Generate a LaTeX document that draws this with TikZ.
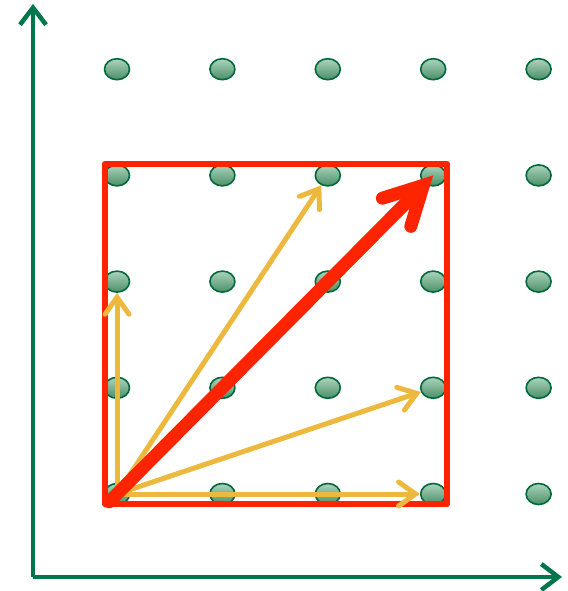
\documentclass[tikz,border=0pt]{standalone}
\usetikzlibrary{arrows.meta,shapes.geometric}
\definecolor{axisgreen}{RGB}{0,118,76}
\definecolor{pegfill}{RGB}{88,168,122}
\definecolor{pegline}{RGB}{0,105,58}
\definecolor{framered}{RGB}{255,36,0}
\definecolor{vecyellow}{RGB}{236,184,62}
\begin{document}
\begin{tikzpicture}[x=1pt, y=-1pt,
		axis/.style={draw=axisgreen, line width=4.5pt, -{Straight Barb[length=17pt, width=26pt, line width=4.5pt]}},
		peg/.style={ellipse, minimum width=25pt, minimum height=21pt, inner sep=0pt, draw=pegline, line width=1.6pt,
			top color=pegfill!50!white, bottom color=pegfill!85!black},
		frame/.style={draw=framered, line width=6.5pt, line join=round},
		vec/.style={draw=vecyellow, line width=5pt, line cap=round,
			-{Straight Barb[length=17pt, width=24pt, line width=5pt, line cap=round]}},
		bigvec/.style={draw=framered, line width=13pt, line cap=round,
			-{Straight Barb[length=38pt, width=40pt, line width=13pt, line cap=round]}}]
		\useasboundingbox (0,0) rectangle (567,591);
		% axes
		\coordinate (o) at (33,577);
		\coordinate (ytop) at (33,4);
		\coordinate (xend) at (562,577);
		\draw[axis] (o) -- (ytop);
		\draw[axis] (o) -- (xend);

		% lattice points p-i-j (i column, j row from the bottom)
		\foreach \i in {0,...,4}
			\foreach \j in {0,...,4}
				\node[peg] (p-\i-\j) at (117+105.4*\i, 494-106.2*\j) {};

		% square
		\draw[frame] (105,164) rectangle (447,504);

		% yellow vectors from the corner point
		\foreach \t in {p-0-2, p-2-3, p-3-1, p-3-0}
			\draw[vec] (p-0-0.center) -- (\t);

		% diagonal
		\draw[bigvec, shorten <=-11pt] (p-0-0.center) -- (p-3-3.center);
	\end{tikzpicture}
\end{document}
